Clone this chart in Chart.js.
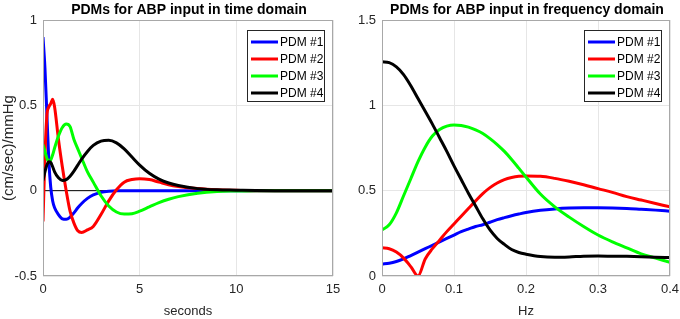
<!DOCTYPE html>
<html><head><meta charset="utf-8">
<script src="https://cdn.jsdelivr.net/npm/chart.js@4.4.1/dist/chart.umd.min.js"></script>
<style>
html,body{margin:0;padding:0;background:#fff;overflow:hidden}
#w{position:relative;width:680px;height:319px}
.c{position:absolute;top:0;width:340px;height:319px}
</style></head><body>
<div id="w">
<div class="c" style="left:0"><canvas id="c1" width="340" height="319"></canvas></div>
<div class="c" style="left:340px"><canvas id="c2" width="340" height="319"></canvas></div>
</div>
<script>
// ---- data: time domain ----
const timeSec = [0,0.1,0.2,0.3,0.4,0.5,0.6,0.8,1.0,1.2,1.4,1.6,1.8,2.0,2.3,2.6,3.0,3.4,3.8,4.2,4.6,5.0,5.5,6.0,6.5,7.0,8,9,10,11,12,13,14,15];
const timePDM1 = [0.9,0.72,0.45,0.18,0.02,-0.06,-0.1,-0.14,-0.165,-0.168,-0.155,-0.13,-0.1,-0.075,-0.045,-0.025,-0.01,-0.003,0,0,0,0,0,0,0,0,0,0,0,0,0,0,0,0];
const timePDM2 = [-0.18,0.2,0.44,0.49,0.51,0.535,0.49,0.3,0.14,0.0,-0.12,-0.19,-0.235,-0.245,-0.23,-0.21,-0.14,-0.06,0.005,0.05,0.065,0.07,0.065,0.05,0.035,0.025,0.012,0.005,0.002,0,0,0,0,0];
const timePDM3 = [0.27,0.23,0.19,0.17,0.18,0.21,0.25,0.32,0.37,0.39,0.375,0.3,0.245,0.19,0.11,0.05,-0.03,-0.09,-0.125,-0.137,-0.135,-0.12,-0.095,-0.07,-0.05,-0.035,-0.015,-0.005,-0.002,0,0,0,0,0];
const timePDM4 = [0.06,0.11,0.15,0.17,0.165,0.14,0.11,0.075,0.06,0.065,0.085,0.115,0.15,0.185,0.23,0.265,0.29,0.295,0.28,0.245,0.197,0.15,0.102,0.068,0.045,0.03,0.012,0.005,0.003,0.001,0,0,0,0];
const zeroLineX = [0,15];
const zeroLineY = [0,0];
// ---- data: frequency domain ----
const freqHz = [0,0.01,0.02,0.03,0.04,0.05,0.06,0.07,0.08,0.09,0.1,0.11,0.12,0.13,0.14,0.15,0.16,0.17,0.18,0.19,0.2,0.22,0.24,0.26,0.28,0.3,0.32,0.34,0.36,0.38,0.4];
const freqPDM1 = [0.07,0.075,0.085,0.1,0.12,0.14,0.16,0.18,0.2,0.22,0.24,0.26,0.275,0.29,0.3,0.315,0.33,0.342,0.353,0.363,0.372,0.385,0.393,0.398,0.4,0.4,0.399,0.396,0.391,0.386,0.38];
const freqPDM2 = [0.165,0.16,0.14,0.105,0.055,0.0,0.1,0.16,0.21,0.26,0.305,0.35,0.395,0.44,0.483,0.518,0.545,0.565,0.577,0.584,0.586,0.584,0.572,0.555,0.535,0.512,0.49,0.465,0.445,0.425,0.405];
const freqPDM3 = [0.27,0.3,0.37,0.47,0.57,0.67,0.755,0.82,0.858,0.878,0.885,0.882,0.872,0.856,0.835,0.805,0.77,0.73,0.683,0.632,0.58,0.48,0.405,0.345,0.29,0.24,0.2,0.165,0.13,0.105,0.08];
const freqPDM4 = [1.255,1.25,1.225,1.18,1.115,1.04,0.965,0.89,0.81,0.73,0.645,0.565,0.485,0.41,0.335,0.27,0.22,0.185,0.155,0.138,0.128,0.114,0.11,0.112,0.116,0.117,0.116,0.115,0.113,0.11,0.108];
// ---- labels & ticks ----
const seriesNames = ['PDM #1','PDM #2','PDM #3','PDM #4'];
const seriesColors = ['#0000ff','#ff0000','#00ff00','#000000'];
const leftTitle = 'PDMs for ABP input in time domain';
const rightTitle = 'PDMs for ABP input in frequency domain';
const leftXLabel = 'seconds';
const leftYLabel = '(cm/sec)/mmHg';
const rightXLabel = 'Hz';
const leftXTicks = [0,5,10,15];
const leftYTicks = [-0.5,0,0.5,1];
const rightXTicks = [0,0.1,0.2,0.3,0.4];
const rightYTicks = [0,0.5,1,1.5];

Chart.defaults.font.family = '"Liberation Sans", Arial, Helvetica, sans-serif';
Chart.defaults.color = '#262626';

function pts(xs, ys){ return xs.map((x,i)=>({x:x, y:ys[i]})); }

function boxTitleLegend(title, legendCfg){
  return {
    id: 'boxTitleLegend',
    afterDraw(chart){
      const ctx = chart.ctx, a = chart.chartArea;
      ctx.save();
      ctx.strokeStyle = '#a8a8a8';
      ctx.lineWidth = 1;
      ctx.strokeRect(Math.round(a.left)+0.5, Math.round(a.top)+0.5, Math.round(a.right-a.left)-1, Math.round(a.bottom-a.top)-1);
      // title
      ctx.fillStyle = '#000';
      ctx.font = 'bold 14px "Liberation Sans", Arial, sans-serif';
      ctx.textAlign = 'center';
      ctx.textBaseline = 'middle';
      ctx.fillText(title, (a.left+a.right)/2 + 1, 10);
      // legend
      const bw = legendCfg.w, bh = legendCfg.h;
      const bx = a.right - legendCfg.right - bw, by = a.top + legendCfg.top;
      ctx.fillStyle = '#fff';
      ctx.fillRect(bx, by, bw, bh);
      ctx.strokeStyle = '#262626';
      ctx.strokeRect(Math.round(bx)+0.5, Math.round(by)+0.5, bw, bh);
      ctx.font = '12px "Liberation Sans", Arial, sans-serif';
      ctx.textAlign = 'left';
      ctx.textBaseline = 'middle';
      chart.data.datasets.filter(d=>d.inLegend).forEach((d,i)=>{
        const y = by + 12 + i*17;
        ctx.strokeStyle = d.borderColor;
        ctx.lineWidth = 3;
        ctx.beginPath(); ctx.moveTo(bx+4, y); ctx.lineTo(bx+31, y); ctx.stroke();
        ctx.fillStyle = '#000';
        ctx.fillText(d.label, bx+33, y+0.5);
      });
      ctx.restore();
    }
  };
}

function makeScale(ticksArr, min, max, fixedSize, isX, titleText, titleSize){
  return {
    type: 'linear', min: min, max: max,
    afterBuildTicks: sc => { sc.ticks = ticksArr.map(v=>({value:v})); },
    afterFit: sc => {
      if(isX){ sc.height = fixedSize; sc.paddingLeft = 0; sc.paddingRight = 0; }
      else { sc.width = fixedSize; }
    },
    grid: { color: '#e6e6e6', lineWidth: 1, drawTicks: false },
    border: { display: false },
    ticks: { padding: 6, font: { size: 13 }, color: '#262626', autoSkip: false, maxRotation: 0, callback: v => String(v) },
    title: titleText ? { display: true, text: titleText, font: { size: titleSize || 13 }, color: '#262626', padding: 0 } : { display: false }
  };
}

function datasets(xs, arrs, withZero){
  const ds = arrs.map((ys,i)=>({
    label: seriesNames[i], inLegend: true,
    data: pts(xs, ys),
    borderColor: seriesColors[i], backgroundColor: seriesColors[i],
    borderWidth: 3, pointRadius: 0, fill: false,
    cubicInterpolationMode: 'monotone',
    order: 3 - i
  }));
  if(withZero){
    ds.push({ label: 'zero', inLegend: false, data: pts(zeroLineX, zeroLineY), borderColor: '#000', borderWidth: 1, pointRadius: 0, order: 10 });
  }
  return ds;
}

new Chart(document.getElementById('c1'), {
  type: 'line',
  data: { datasets: datasets(timeSec, [timePDM1,timePDM2,timePDM3,timePDM4], true) },
  options: {
    responsive: false, animation: false, devicePixelRatio: 1,
    layout: { padding: { left: 0, right: 7, top: 20, bottom: 0 } },
    plugins: { legend: { display: false }, tooltip: { enabled: false } },
    scales: {
      x: makeScale(leftXTicks, 0, 15, 43, true, leftXLabel),
      y: makeScale(leftYTicks, -0.5, 1, 43, false, leftYLabel, 15)
    }
  },
  plugins: [boxTitleLegend(leftTitle, { w: 77, h: 71, right: 9, top: 10 })]
});

new Chart(document.getElementById('c2'), {
  type: 'line',
  data: { datasets: datasets(freqHz, [freqPDM1,freqPDM2,freqPDM3,freqPDM4], false) },
  options: {
    responsive: false, animation: false, devicePixelRatio: 1,
    layout: { padding: { left: 0, right: 10, top: 20, bottom: 0 } },
    plugins: { legend: { display: false }, tooltip: { enabled: false } },
    scales: {
      x: makeScale(rightXTicks, 0, 0.4, 43, true, rightXLabel),
      y: makeScale(rightYTicks, 0, 1.5, 42, false, null)
    }
  },
  plugins: [boxTitleLegend(rightTitle, { w: 77, h: 71, right: 9, top: 10 })]
});
</script>
</body></html>
